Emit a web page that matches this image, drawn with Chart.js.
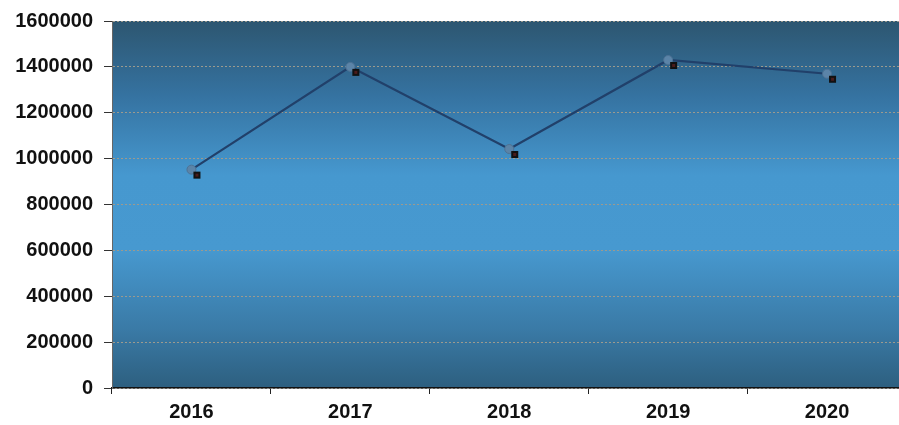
<!DOCTYPE html>
<html lang="en">
<head>
   <meta charset="UTF-8">
   <title>Line chart 2016-2020</title>
   <style>
      html, body {
         margin: 0;
         padding: 0;
         background: #ffffff;
         overflow: hidden;
      }
      .wrap {
         width: 912px;
         height: 425px;
      }
   </style>
</head>
<body>
   <div class="wrap">
      <canvas id="lineChart" width="912" height="425"></canvas>
   </div>
   <script src="https://cdn.jsdelivr.net/npm/chart.js@4/dist/chart.umd.min.js"></script>
   <script>
      var years = ['2016', '2017', '2018', '2019', '2020'];
      var values = [952000, 1400000, 1042000, 1430000, 1370000];
      var yMin = 0;
      var yMax = 1600000;
      var yStep = 200000;

      // gradient behind the plot area
      var plotBackground = {
         id: 'plotBackground',
         beforeDraw: function (chart) {
            var a = chart.chartArea;
            var ctx = chart.ctx;
            var g = ctx.createLinearGradient(0, a.top, 0, a.bottom);
            g.addColorStop(0, '#2d5670');
            g.addColorStop(0.2, '#3572a0');
            g.addColorStop(0.42, '#4698cf');
            g.addColorStop(0.62, '#4799d0');
            g.addColorStop(0.84, '#3a7aa6');
            g.addColorStop(1, '#2d5f7f');
            ctx.save();
            ctx.fillStyle = g;
            ctx.fillRect(a.left, a.top, a.right - a.left, a.bottom - a.top);
            ctx.restore();
         }
      };

      // small black shadow square below-right of each marker
      var markerShadow = {
         id: 'markerShadow',
         afterDatasetsDraw: function (chart) {
            var ctx = chart.ctx;
            var meta = chart.getDatasetMeta(0);
            ctx.save();
            meta.data.forEach(function (pt) {
               ctx.fillStyle = '#111111';
               ctx.fillRect(pt.x + 2, pt.y + 2, 7, 7);
               ctx.fillStyle = '#4a1c1c';
               ctx.fillRect(pt.x + 4, pt.y + 4, 3, 3);
            });
            ctx.restore();
         }
      };

      var labelFont = { family: '"Liberation Sans", Arial, sans-serif', size: 20, weight: 'bold', lineHeight: 1 };

      var ctx = document.getElementById('lineChart');
      var myLineChart = new Chart(ctx, {
         type: 'line',
         data: {
            labels: years,
            datasets: [{
               data: values,
               borderColor: '#21406a',
               borderWidth: 2.2,
               pointStyle: 'circle',
               pointRadius: 4.5,
               pointBackgroundColor: '#5b84a8',
               pointBorderColor: '#4d7294',
               pointBorderWidth: 1,
               tension: 0
            }]
         },
         plugins: [plotBackground, markerShadow],
         options: {
            responsive: false,
            animation: false,
            layout: {
               padding: { top: 10, right: 0, left: 0, bottom: 0 }
            },
            plugins: {
               legend: { display: false },
               tooltip: { enabled: false }
            },
            scales: {
               x: {
                  offset: true,
                  afterFit: function (scale) { scale.height = 37; },
                  grid: {
                     offset: true,
                     drawOnChartArea: false,
                     drawTicks: true,
                     tickLength: 6,
                     tickColor: '#222222',
                     tickWidth: 1
                  },
                  border: { color: '#111111', width: 1.5 },
                  ticks: {
                     padding: 8,
                     color: '#111111',
                     font: labelFont
                  }
               },
               y: {
                  min: yMin,
                  max: yMax,
                  afterFit: function (scale) { scale.width = 112; },
                  grid: {
                     color: '#9c9a8e',
                     lineWidth: 1,
                     tickLength: 8,
                     tickColor: '#333333',
                     tickBorderDash: [],
                     drawTicks: true
                  },
                  border: { color: '#666666', width: 1, dash: [2, 2] },
                  ticks: {
                     stepSize: yStep,
                     padding: 11,
                     color: '#111111',
                     font: labelFont,
                     callback: function (v) { return String(v); }
                  }
               }
            }
         }
      });
   </script>
</body>
</html>
